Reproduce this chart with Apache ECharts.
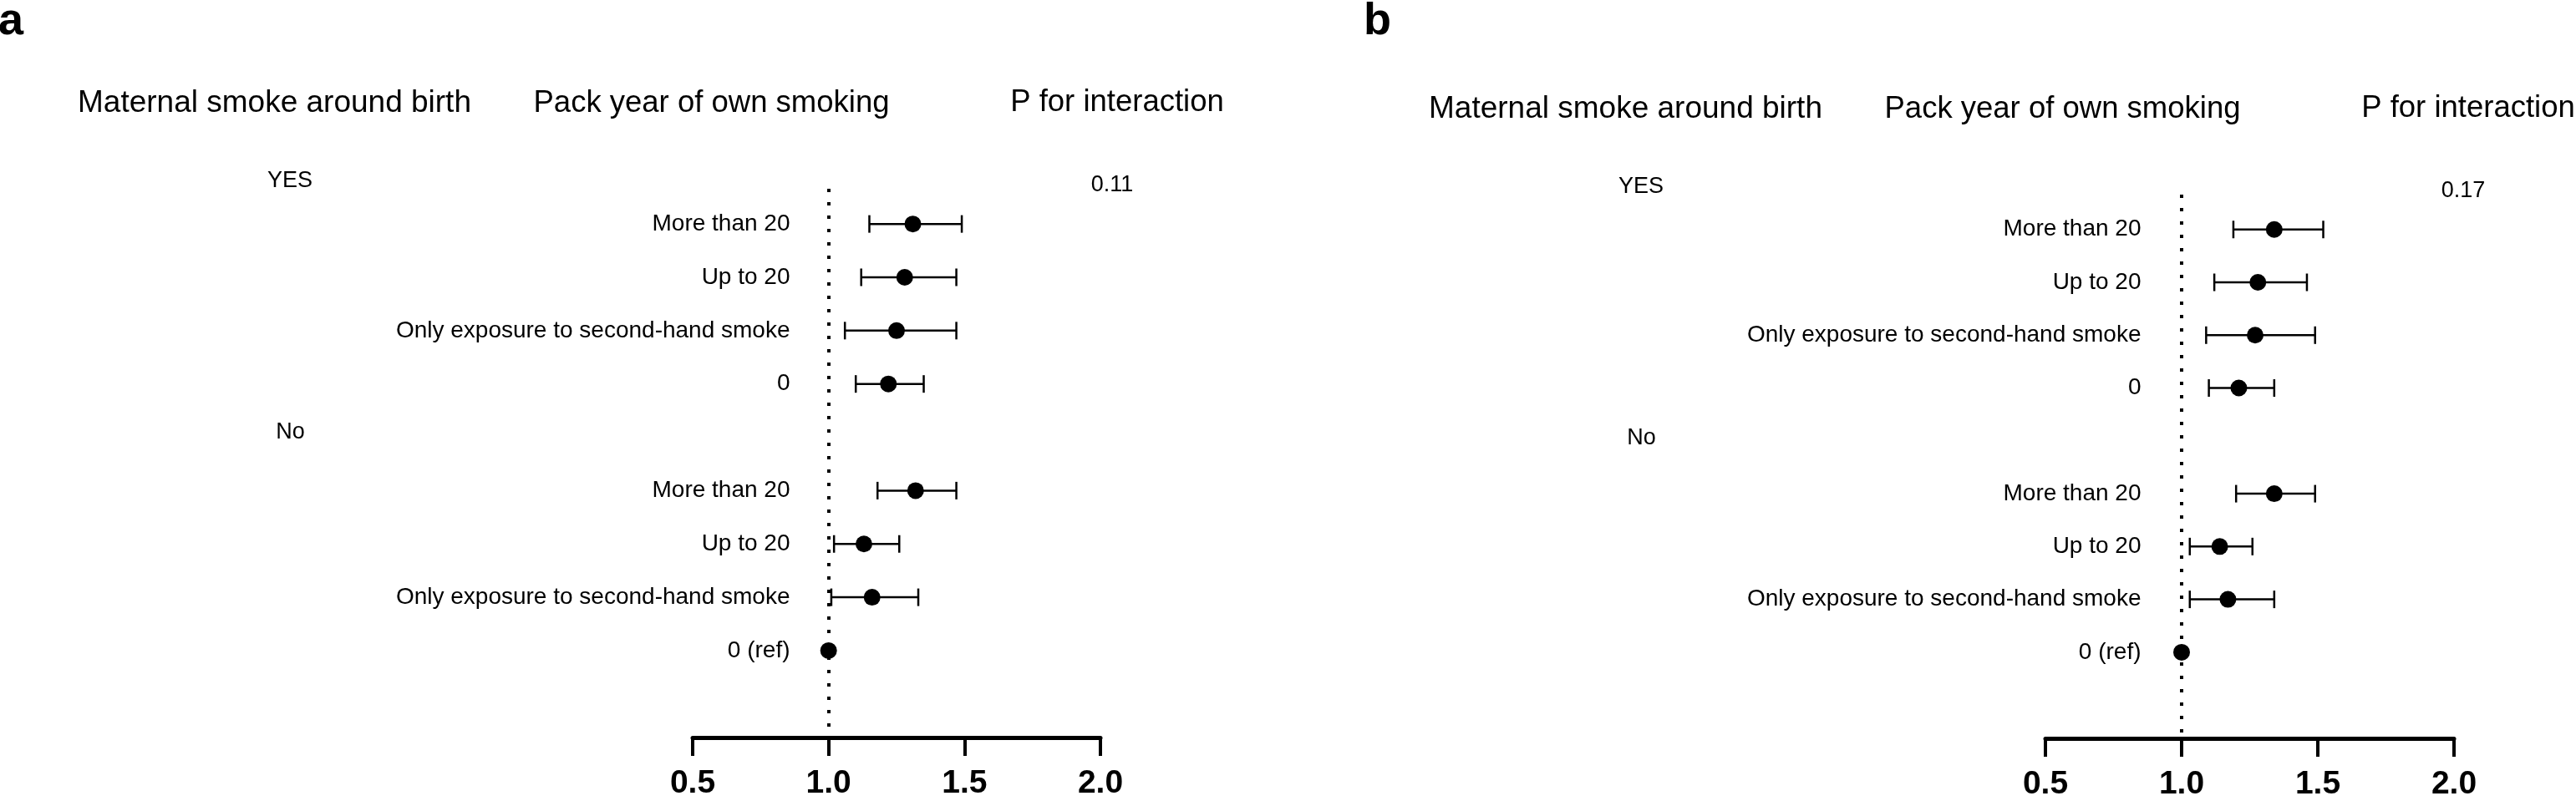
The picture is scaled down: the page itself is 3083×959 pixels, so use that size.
<!DOCTYPE html>
<html>
<head>
<meta charset="utf-8">
<script src="https://cdn.jsdelivr.net/npm/echarts@6/dist/echarts.min.js"></script>
<style>
html,body{margin:0;padding:0;background:#fff;}
#chart{width:3083px;height:959px;}
</style>
</head>
<body>
<div id="chart"></div>
<script>
// ---------- data ----------
const panelLetters = ['a', 'b'];
const headerTexts = ['Maternal smoke around birth', 'Pack year of own smoking', 'P for interaction'];
const groupLabels = ['YES', 'No'];
const pValues = ['0.11', '0.17'];
const rowLabels = ['More than 20', 'Up to 20', 'Only exposure to second-hand smoke', '0', '',
                   'More than 20', 'Up to 20', 'Only exposure to second-hand smoke', '0 (ref)'];
const rowIndex = [0, 1, 2, 3, 5, 6, 7, 8];
const xTicks = [0.5, 1.0, 1.5, 2.0];
const refValue = 1.0;

// panel a
const estA = [1.31, 1.28, 1.25, 1.22, 1.32, 1.13, 1.16, 1.00];
const lowA = [1.15, 1.12, 1.06, 1.10, 1.18, 1.02, 1.01, null];
const highA = [1.49, 1.47, 1.47, 1.35, 1.47, 1.26, 1.33, null];
// panel b
const estB = [1.34, 1.28, 1.27, 1.21, 1.34, 1.14, 1.17, 1.00];
const lowB = [1.19, 1.12, 1.09, 1.10, 1.20, 1.03, 1.03, null];
const highB = [1.52, 1.46, 1.49, 1.34, 1.49, 1.26, 1.34, null];

// ---------- layout ----------
const FONT = "'Liberation Sans', Arial, Helvetica, sans-serif";
const panels = [
  {est: estA, low: lowA, high: highA, dx: 0, dy: 0, grid: {left: 829, right: 1766, top: 226, bottom: 76}, labelMargin: -116.5},
  {est: estB, low: lowB, high: highB, dx: 1617, dy: 7, grid: {left: 2448, right: 146, top: 233, bottom: 69}, labelMargin: -114.5}
];

function renderCI(params, api) {
  const y = api.value(2);
  const a = api.coord([api.value(0), y]);
  const b = api.coord([api.value(1), y]);
  const h = 10.5;
  const style = {stroke: '#000', lineWidth: 2.5};
  return {type: 'group', children: [
    {type: 'line', shape: {x1: a[0], y1: a[1], x2: b[0], y2: b[1]}, style: style},
    {type: 'line', shape: {x1: a[0], y1: a[1] - h, x2: a[0], y2: a[1] + h}, style: style},
    {type: 'line', shape: {x1: b[0], y1: b[1] - h, x2: b[0], y2: b[1] + h}, style: style}
  ]};
}

const grids = [], xAxes = [], yAxes = [], series = [], graphics = [];
const labelValues = rowIndex.filter(i => rowLabels[i] !== '');

function txt(x, y, text, size, weight, align) {
  return {type: 'text', x: x, y: y, silent: true,
    style: {text: text, font: weight + ' ' + size + 'px ' + FONT, fill: '#000',
      textAlign: align, textVerticalAlign: 'middle', align: align, verticalAlign: 'middle'}};
}

panels.forEach((p, k) => {
  grids.push(p.grid);
  xAxes.push({
    gridIndex: k, type: 'value', min: 0.5, max: 2.0, interval: 0.5,
    axisLine: {show: true, onZero: false, lineStyle: {color: '#000', width: 5}},
    axisTick: {show: true, length: 22, lineStyle: {color: '#000', width: 4}},
    axisLabel: {show: true, margin: 36, color: '#000', fontSize: 39, fontWeight: 'bold', fontFamily: FONT,
      formatter: v => v.toFixed(1)},
    splitLine: {show: false}
  });
  yAxes.push({
    gridIndex: k, type: 'value', inverse: true, min: -0.66, max: 9.63,
    axisLine: {show: false}, axisTick: {show: false}, splitLine: {show: false},
    axisLabel: {show: true, customValues: labelValues, margin: p.labelMargin, color: '#000',
      fontSize: 28, fontFamily: FONT, align: 'right',
      formatter: v => rowLabels[v] || ''}
  });
  const ciData = [];
  const ptData = [];
  rowIndex.forEach((r, i) => {
    ptData.push([p.est[i], r]);
    if (p.low[i] != null) ciData.push([p.low[i], p.high[i], r]);
  });
  series.push({
    type: 'custom', xAxisIndex: k, yAxisIndex: k, renderItem: renderCI,
    encode: {x: [0, 1], y: 2}, data: ciData, silent: true, z: 2
  });
  series.push({
    type: 'scatter', xAxisIndex: k, yAxisIndex: k, data: ptData, symbol: 'circle', symbolSize: 20,
    itemStyle: {color: '#000', opacity: 1}, silent: true, z: 3,
    markLine: {silent: true, symbol: ['none', 'none'], label: {show: false},
      lineStyle: {color: '#000', width: 4, type: [4, 12], opacity: 1},
      data: [{xAxis: refValue}]}
  });

  const dx = p.dx, dy = p.dy;
  graphics.push(txt(-2 + (k ? 1634 : 0), 26, panelLetters[k], 54, 'bold', 'left'));
  graphics.push(txt(328.5 + dx, 124 + dy, headerTexts[0], 37, 'normal', 'center'));
  graphics.push(txt(851.5 + dx, 124 + dy, headerTexts[1], 36.5, 'normal', 'center'));
  graphics.push(txt(1337 + dx, 123 + dy, headerTexts[2], 36.5, 'normal', 'center'));
  graphics.push(txt(347 + dx, 217 + dy, groupLabels[0], 27, 'normal', 'center'));
  graphics.push(txt(347.5 + dx, 518 + dy, groupLabels[1], 27, 'normal', 'center'));
  graphics.push(txt(1331 + dx, 222 + dy, pValues[k], 27, 'normal', 'center'));
});

const chart = echarts.init(document.getElementById('chart'), null, {renderer: 'canvas'});
chart.setOption({
  backgroundColor: '#fff',
  animation: false,
  grid: grids,
  xAxis: xAxes,
  yAxis: yAxes,
  series: series,
  graphic: graphics
});
</script>
</body>
</html>
